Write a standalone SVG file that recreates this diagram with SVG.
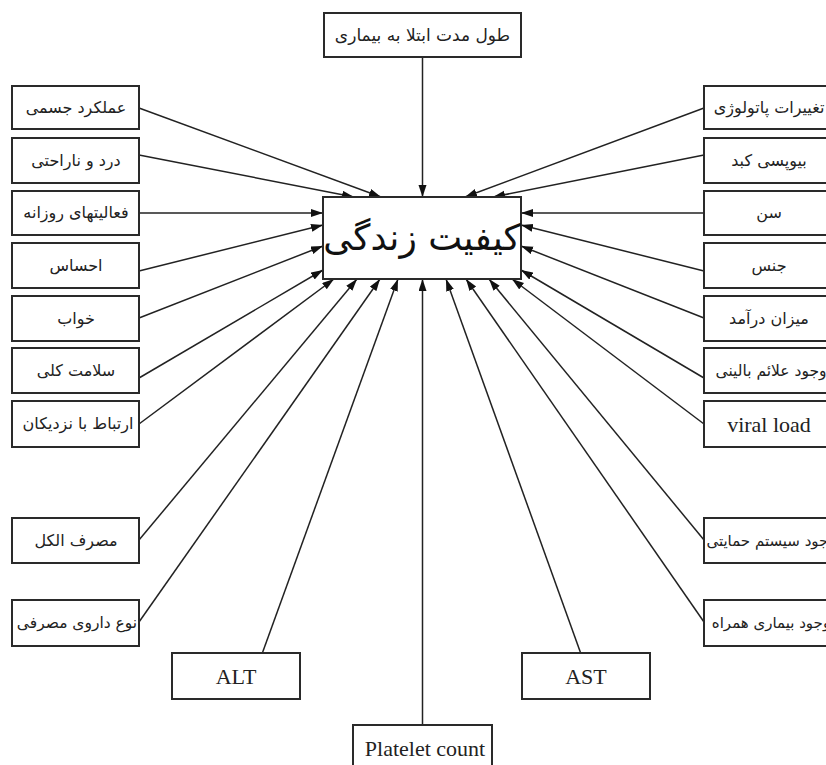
<svg xmlns="http://www.w3.org/2000/svg" width="826" height="765" viewBox="0 0 826 765">
<style>
.box{fill:#fff;stroke:#2a2a2a;stroke-width:2}
.fa{font-family:"DejaVu Sans",sans-serif;font-size:16px;fill:#222;text-anchor:middle}
.en{font-family:"Liberation Serif",serif;font-size:22px;fill:#222;text-anchor:middle}
.big{font-family:"DejaVu Sans",sans-serif;font-size:36px;fill:#111;text-anchor:middle}
.c{stroke:#222;stroke-width:1.5;fill:none;marker-end:url(#ah)}
</style>
<defs>
<marker id="ah" markerUnits="userSpaceOnUse" markerWidth="13" markerHeight="9" refX="12" refY="4" orient="auto">
<path d="M0,0 L12,4 L0,8 z" fill="#111"/>
</marker>
</defs>
<rect width="826" height="765" fill="#fff"/>
<g id="connectors">
<line class="c" x1="422.5" y1="57" x2="422.5" y2="197"/>
<line class="c" x1="139" y1="108" x2="381" y2="197"/>
<line class="c" x1="139" y1="155" x2="354" y2="197"/>
<line class="c" x1="139" y1="213" x2="323" y2="213"/>
<line class="c" x1="139" y1="271" x2="323" y2="225"/>
<line class="c" x1="139" y1="318" x2="323" y2="246"/>
<line class="c" x1="139" y1="378" x2="323" y2="270"/>
<line class="c" x1="139" y1="424" x2="334" y2="279"/>
<line class="c" x1="139" y1="540" x2="357" y2="279"/>
<line class="c" x1="139" y1="622" x2="380" y2="279"/>
<line class="c" x1="262" y1="654" x2="398" y2="279"/>
<line class="c" x1="422.5" y1="725" x2="422.5" y2="279"/>
<line class="c" x1="581" y1="654" x2="446" y2="279"/>
<line class="c" x1="704" y1="622" x2="466" y2="279"/>
<line class="c" x1="704" y1="540" x2="489" y2="279"/>
<line class="c" x1="704" y1="424" x2="512" y2="279"/>
<line class="c" x1="704" y1="378" x2="521" y2="270"/>
<line class="c" x1="704" y1="318" x2="521" y2="246"/>
<line class="c" x1="704" y1="271" x2="521" y2="225"/>
<line class="c" x1="704" y1="213" x2="521" y2="213"/>
<line class="c" x1="704" y1="155" x2="493" y2="197"/>
<line class="c" x1="704" y1="108" x2="465" y2="197"/>
</g>
<g id="center"><rect class="box" x="323" y="197" width="198" height="82"/><text class="big" x="422" y="250">کیفیت زندگی</text></g>
<g id="top"><rect class="box" x="324" y="13" width="197" height="44"/><text class="fa" x="422.5" y="41" style="font-size:17px">طول مدت ابتلا به بیماری</text></g>
<g id="l1"><rect class="box" x="12" y="86" width="127" height="43"/><text class="fa" x="76" y="113">عملکرد جسمی</text></g>
<g id="l2"><rect class="box" x="12" y="138" width="127" height="45"/><text class="fa" x="76" y="166">درد و ناراحتی</text></g>
<g id="l3"><rect class="box" x="12" y="191" width="127" height="44"/><text class="fa" x="76" y="218">فعالیتهای روزانه</text></g>
<g id="l4"><rect class="box" x="12" y="243" width="127" height="45"/><text class="fa" x="76" y="271">احساس</text></g>
<g id="l5"><rect class="box" x="12" y="296" width="127" height="45"/><text class="fa" x="76" y="324">خواب</text></g>
<g id="l6"><rect class="box" x="12" y="348" width="127" height="45"/><text class="fa" x="76" y="376">سلامت کلی</text></g>
<g id="l7"><rect class="box" x="12" y="401" width="127" height="46"/><text class="fa" x="78" y="429">ارتباط با نزدیکان</text></g>
<g id="l8"><rect class="box" x="12" y="518" width="127" height="45"/><text class="fa" x="76" y="546">مصرف الكل</text></g>
<g id="l9"><rect class="box" x="12" y="600" width="127" height="46"/><text class="fa" x="77" y="628" style="font-size:15.5px">نوع داروی مصرفی</text></g>
<g id="alt"><rect class="box" x="172" y="653" width="128" height="46"/><text class="en" x="236" y="684">ALT</text></g>
<g id="platelet"><rect class="box" x="353" y="725" width="139" height="50"/><text class="en" x="425" y="756">Platelet count</text></g>
<g id="ast"><rect class="box" x="522" y="653" width="128" height="46"/><text class="en" x="586" y="684">AST</text></g>
<g id="r1"><rect class="box" x="704" y="86" width="132" height="43"/><text class="fa" x="769" y="113">تغییرات پاتولوژی</text></g>
<g id="r2"><rect class="box" x="704" y="138" width="132" height="45"/><text class="fa" x="769" y="166">بیوپسی کبد</text></g>
<g id="r3"><rect class="box" x="704" y="191" width="132" height="44"/><text class="fa" x="769" y="218">سن</text></g>
<g id="r4"><rect class="box" x="704" y="243" width="132" height="45"/><text class="fa" x="769" y="271">جنس</text></g>
<g id="r5"><rect class="box" x="704" y="296" width="132" height="45"/><text class="fa" x="769" y="324">میزان درآمد</text></g>
<g id="r6"><rect class="box" x="704" y="348" width="132" height="45"/><text class="fa" x="771" y="376" style="font-size:15.5px">وجود علائم بالینی</text></g>
<g id="r7"><rect class="box" x="704" y="401" width="132" height="46"/><text class="en" x="769" y="432">viral load</text></g>
<g id="r8"><rect class="box" x="704" y="518" width="132" height="45"/><text class="fa" x="771" y="546" style="font-size:15px">وجود سیستم حمایتی</text></g>
<g id="r9"><rect class="box" x="704" y="600" width="132" height="46"/><text class="fa" x="771" y="628" style="font-size:15px">وجود بیماری همراه</text></g>
</svg>
